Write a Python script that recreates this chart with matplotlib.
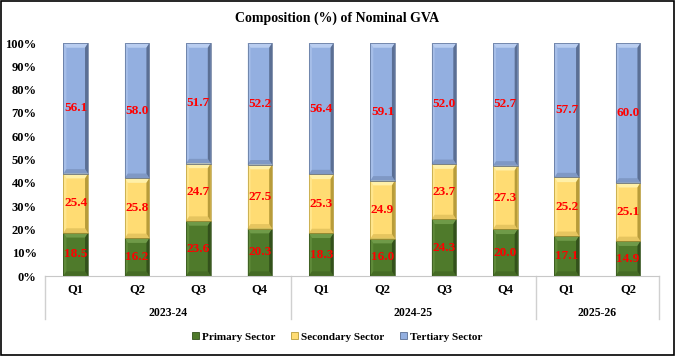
import numpy as np
import matplotlib
matplotlib.use("Agg")
import matplotlib.pyplot as plt
from matplotlib.patches import Polygon, Rectangle
from matplotlib.lines import Line2D

# chart data
quarters = ["Q1", "Q2", "Q3", "Q4", "Q1", "Q2", "Q3", "Q4", "Q1", "Q2"]
years = ["2023-24", "2024-25", "2025-26"]
year_sizes = [4, 4, 2]
primary = [18.5, 16.2, 23.6, 20.3, 18.3, 16.0, 24.3, 20.0, 17.1, 14.9]
secondary = [25.4, 25.8, 24.7, 27.5, 25.3, 24.9, 23.7, 27.3, 25.2, 25.1]
tertiary = [56.1, 58.0, 51.7, 52.2, 56.4, 59.1, 52.0, 52.7, 57.7, 60.0]
series_names = ["Primary Sector", "Secondary Sector", "Tertiary Sector"]

colors = ["#4f7a2b", "#ffdc73", "#93afe0"]
light = ["#6f9a48", "#fff0a8", "#b9cdf0"]
dark = ["#33511b", "#b89c3a", "#5b6f94"]

plt.rcParams["font.family"] = ["Liberation Serif", "DejaVu Serif"]
plt.rcParams["font.weight"] = "bold"

fig = plt.figure(figsize=(6.75, 3.56), dpi=100)
ax = fig.add_axes([0.0667, 0.2247, 0.9093, 0.6543])

x = np.arange(len(quarters))
width = 0.4
bottom = np.zeros(len(x))
for vals, c, lc, dc in zip([primary, secondary, tertiary], colors, light, dark):
    bars = ax.bar(x, vals, width, bottom=bottom, color=c, edgecolor="none", zorder=2)
    for b, v in zip(bars, vals):
        x0, y0 = b.get_x(), b.get_y()
        w, h = b.get_width(), b.get_height()
        bw, bh = w * 0.12, min(2.0, h * 0.2)
        # bevel: light top + left, dark right side, soft bottom
        ax.add_patch(Polygon([(x0, y0 + h), (x0 + w, y0 + h), (x0 + w - bw, y0 + h - bh),
                              (x0 + bw, y0 + h - bh)], closed=True, color=lc, lw=0, zorder=3))
        ax.add_patch(Polygon([(x0, y0), (x0, y0 + h), (x0 + bw, y0 + h - bh),
                              (x0 + bw, y0 + bh)], closed=True, color=lc, alpha=0.5, lw=0, zorder=3))
        ax.add_patch(Polygon([(x0 + w, y0), (x0 + w, y0 + h), (x0 + w - bw, y0 + h - bh),
                              (x0 + w - bw, y0 + bh)], closed=True, color=dc, lw=0, zorder=3))
        ax.add_patch(Polygon([(x0, y0), (x0 + w, y0), (x0 + w - bw, y0 + bh),
                              (x0 + bw, y0 + bh)], closed=True, color=dc, alpha=0.35, lw=0, zorder=3))
        ax.add_patch(Rectangle((x0, y0), w, h, fill=False, ec=dc, lw=0.5, zorder=4))
        ax.text(x0 + w / 2, y0 + h / 2, f"{v:.1f}", ha="center", va="center",
                color="red", fontsize=9.5, fontweight="bold", zorder=5)
    bottom += np.array(vals)

ax.set_xlim(-0.5, len(x) - 0.5)
ax.set_ylim(0, 100)
ax.set_yticks(np.arange(0, 101, 10))
ax.set_yticklabels([f"{t}%" for t in range(0, 101, 10)])
ax.tick_params(axis="y", length=0, labelsize=9, pad=6)
ax.set_xticks([])
for s in ["top", "right", "left"]:
    ax.spines[s].set_visible(False)
ax.spines["bottom"].set_color("#c8c8c8")

# two-level category axis
trans = ax.get_xaxis_transform()
for xi, q in zip(x, quarters):
    ax.text(xi, -0.055, q, transform=trans, ha="center", va="center", fontsize=9)
edge = -0.5
bounds = [edge]
for yr, n in zip(years, year_sizes):
    ax.text(edge + n / 2, -0.16, yr, transform=trans, ha="center", va="center", fontsize=8.5)
    edge += n
    bounds.append(edge)
for bx in bounds:
    ax.add_line(Line2D([bx, bx], [0, -0.185], transform=trans, color="#d0d0d0",
                       lw=1, clip_on=False))

fig.text(0.5, 0.949, "Composition (%) of Nominal GVA", ha="center", va="center",
         fontsize=10, fontweight="bold")

handles = [Rectangle((0, 0), 1, 1, fc=c, ec=d, lw=0.6) for c, d in zip(colors, dark)]
fig.legend(handles, series_names, loc="center", bbox_to_anchor=(0.5, 0.053), ncol=3,
           frameon=False, fontsize=8, handlelength=0.6, handleheight=0.6,
           handletextpad=0.3, columnspacing=1.4)

fig.add_artist(Rectangle((0.001, 0.002), 0.997, 0.995, transform=fig.transFigure,
                         fill=False, ec="black", lw=1.2))

fig.savefig("out.png", dpi=100)
